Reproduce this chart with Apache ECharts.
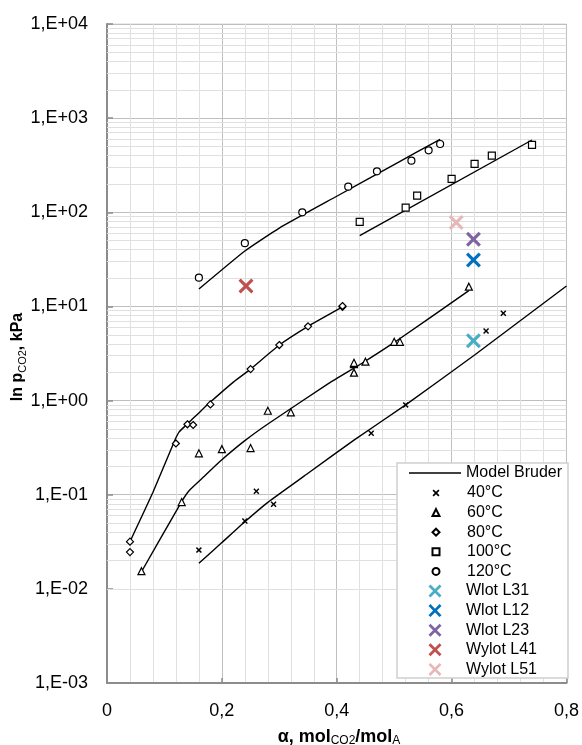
<!DOCTYPE html>
<html><head><meta charset="utf-8">
<script src="https://cdn.jsdelivr.net/npm/echarts@6/dist/echarts.min.js"></script>
<style>html,body{margin:0;padding:0;background:#fff}#c{width:582px;height:745px}</style>
</head><body><div id="c"></div>
<script>
// ---- data ----
const xTickLabels = ['0', '0,2', '0,4', '0,6', '0,8'];
const yMinorMultipliers = [2, 3, 4, 5, 6, 7, 8, 9];
const yDecades = [-3, -2, -1, 0, 1, 2, 3];

const pts40 = [[0.16,0.0258],[0.24,0.0526],[0.26,0.109],[0.29,0.079],[0.46,0.449],[0.52,0.90],[0.66,5.48],[0.69,8.45]];
const pts60 = [[0.06,0.0154],[0.13,0.0835],[0.16,0.275],[0.20,0.305],[0.25,0.313],[0.28,0.78],[0.32,0.75],[0.43,1.98],[0.43,2.44],[0.43,2.52],[0.45,2.59],[0.50,4.21],[0.51,4.21],[0.63,16.2]];
const pts80 = [[0.04,0.0317],[0.04,0.0246],[0.12,0.35],[0.14,0.56],[0.15,0.55],[0.18,0.91],[0.25,2.16],[0.30,3.89],[0.35,6.15],[0.41,9.9],[0.41,10.1]];
const pts100 = [[0.44,79],[0.52,112],[0.54,150],[0.60,226],[0.64,326],[0.67,399],[0.74,519]];
const pts120 = [[0.16,20.2],[0.24,47],[0.34,100],[0.42,187],[0.47,272],[0.53,353],[0.56,455],[0.58,531]];

const model40 = [[0.16,0.0187],[0.20,0.031],[0.24,0.0516],[0.28,0.083],[0.35,0.169],[0.43,0.38],[0.52,0.90],[0.64,3.05],[0.80,16.5]];
const model60 = [[0.06,0.0152],[0.13,0.0844],[0.144,0.112],[0.17,0.158],[0.196,0.224],[0.24,0.375],[0.282,0.574],[0.386,1.52],[0.444,2.49],[0.502,4.22],[0.63,14.7]];
const model80 = [[0.04,0.0317],[0.08,0.106],[0.117,0.366],[0.126,0.467],[0.141,0.573],[0.16,0.74],[0.178,0.94],[0.22,1.57],[0.25,2.16],[0.30,3.89],[0.35,6.15],[0.41,9.9]];
const model100 = [[0.44,56.4],[0.74,586]];
const model120 = [[0.16,15.3],[0.24,38.8],[0.30,68],[0.40,148],[0.50,321],[0.58,596]];

const wlotL31 = [[0.638,4.33]];
const wlotL12 = [[0.638,31.1]];
const wlotL23 = [[0.638,51.7]];
const wylotL41 = [[0.242,16.5]];
const wylotL51 = [[0.608,78]];

// ---- styling ----
const bigX = 'path://M0,1.5L1.5,0L5,3.5L8.5,0L10,1.5L6.5,5L10,8.5L8.5,10L5,6.5L1.5,10L0,8.5L3.5,5Z';
const smallX = 'path://M0,1.7L1.7,0L5,3.3L8.3,0L10,1.7L6.7,5L10,8.3L8.3,10L5,6.7L1.7,10L0,8.3L3.3,5Z';
const FONT = 'Liberation Sans, Arial, sans-serif';

const minorY = [];
yDecades.forEach(d => yMinorMultipliers.forEach(k => minorY.push({yAxis: k * Math.pow(10, d)})));

function modelSeries(data) {
  return {name: 'Model Bruder', type: 'line', data, symbol: 'none', showSymbol: false, smooth: 0.15,
    lineStyle: {color: '#000', width: 1.4, type: 'solid'}, itemStyle: {color: '#000'}, z: 3, silent: true};
}
function hollow(name, data, symbol, size) {
  return {name, type: 'scatter', data, symbol, symbolSize: size,
    itemStyle: {color: '#fff', borderColor: '#000', borderWidth: 1.2, opacity: 1}, z: 4};
}
function cross(name, data, color, size, path) {
  return {name, type: 'scatter', data, symbol: path, symbolSize: size,
    itemStyle: {color, opacity: 1}, z: 5};
}

const chart = echarts.init(document.getElementById('c'), null, {renderer: 'canvas'});
const legendText = (pad) => ({fontFamily: FONT, fontSize: 16, color: '#000', lineHeight: 16, padding: [0, 0, 0, pad]});
chart.setOption({
  animation: false,
  backgroundColor: '#fff',
  grid: {left: 107, right: 13, top: 24, bottom: 62, show: true, borderColor: '#d9d9d9', borderWidth: 1},
  xAxis: [
    {type: 'value', min: 0, max: 0.8, interval: 0.04, gridIndex: 0,
     axisLine: {show: false}, axisTick: {show: false}, axisLabel: {show: false},
     splitLine: {show: true, lineStyle: {color: '#e0e0e0', width: 1}}},
    {type: 'value', min: 0, max: 0.8, interval: 0.2, gridIndex: 0, position: 'bottom',
     axisLine: {show: true, onZero: false, lineStyle: {color: '#8c8c8c', width: 2}},
     axisTick: {show: true, inside: true, length: 5, lineStyle: {color: '#8c8c8c', width: 1.5}},
     axisLabel: {show: true, margin: 19, fontFamily: FONT, fontSize: 18, color: '#000',
       formatter: v => xTickLabels[Math.round(v / 0.2)]},
     splitLine: {show: true, lineStyle: {color: '#bfbfbf', width: 1}}}
  ],
  yAxis: {type: 'log', logBase: 10, min: 0.001, max: 10000,
    axisLine: {show: true, lineStyle: {color: '#8c8c8c', width: 2}},
    axisTick: {show: true, inside: true, length: 6, lineStyle: {color: '#8c8c8c', width: 1.5}},
    axisLabel: {margin: 19, fontFamily: FONT, fontSize: 18, color: '#000',
      formatter: v => { const e = Math.round(Math.log10(v)); return '1,E' + (e < 0 ? '-' : '+') + String(Math.abs(e)).padStart(2, '0'); }},
    splitLine: {show: true, lineStyle: {color: '#bfbfbf', width: 1}},
    minorTick: {show: false}},
  legend: [
    {orient: 'vertical', left: 409, top: 465, padding: 0, itemGap: 3.6, itemWidth: 52, itemHeight: 1.4, z: 20,
     textStyle: legendText(0), data: [{name: 'Model Bruder', icon: 'rect'}], selectedMode: false},
    {orient: 'vertical', left: 431.5, top: 485, padding: 0, itemGap: 3.6, itemWidth: 7, itemHeight: 7, z: 20,
     textStyle: legendText(22.5), data: ['40°C', '60°C', '80°C', '100°C', '120°C'], selectedMode: false},
    {orient: 'vertical', left: 428.5, top: 583, padding: 0, itemGap: 3.6, itemWidth: 13, itemHeight: 13, z: 20,
     textStyle: legendText(19.5), data: ['Wlot L31', 'Wlot L12', 'Wlot L23', 'Wylot L41', 'Wylot L51'], selectedMode: false}
  ],
  graphic: [
    {type: 'rect', z: 10, shape: {x: 397, y: 463, width: 171, height: 215},
     style: {fill: '#fff', stroke: '#d0d0d0', lineWidth: 1.5}},
    {type: 'text', x: 339, y: 737, z: 10,
     style: {text: '{b|α, mol}{s|CO2}{b|/mol}{s|A}', align: 'center', verticalAlign: 'middle',
       rich: {b: {fontFamily: FONT, fontSize: 18, fontWeight: 'bold', lineHeight: 20, verticalAlign: 'middle'},
              s: {fontFamily: FONT, fontSize: 12, lineHeight: 20, verticalAlign: 'bottom'}}}},
    {type: 'text', x: 18, y: 357, z: 10, rotation: Math.PI / 2,
     style: {text: '{b|ln p}{s|CO2}{b|, kPa}', align: 'center', verticalAlign: 'middle',
       rich: {b: {fontFamily: FONT, fontSize: 16, fontWeight: 'bold', lineHeight: 20, verticalAlign: 'middle'},
              s: {fontFamily: FONT, fontSize: 11, lineHeight: 20, verticalAlign: 'bottom'}}}}
  ],
  series: [
    {name: 'minor', type: 'line', data: [], z: 1, silent: true,
     markLine: {z: 1, silent: true, symbol: 'none', label: {show: false}, animation: false,
       lineStyle: {color: '#e0e0e0', width: 1, type: 'solid'}, emphasis: {disabled: true}, data: minorY}},
    modelSeries(model40), modelSeries(model60), modelSeries(model80), modelSeries(model100), modelSeries(model120),
    cross('40°C', pts40, '#000', 6, smallX),
    hollow('60°C', pts60, 'triangle', 7),
    hollow('80°C', pts80, 'diamond', 7),
    hollow('100°C', pts100, 'rect', 7),
    hollow('120°C', pts120, 'circle', 7),
    cross('Wlot L31', wlotL31, '#4bacc6', 15, bigX),
    cross('Wlot L12', wlotL12, '#0070c0', 15, bigX),
    cross('Wlot L23', wlotL23, '#8064a2', 15, bigX),
    cross('Wylot L41', wylotL41, '#c0504d', 15, bigX),
    cross('Wylot L51', wylotL51, '#e6b9b8', 15, bigX)
  ]
});
</script></body></html>
